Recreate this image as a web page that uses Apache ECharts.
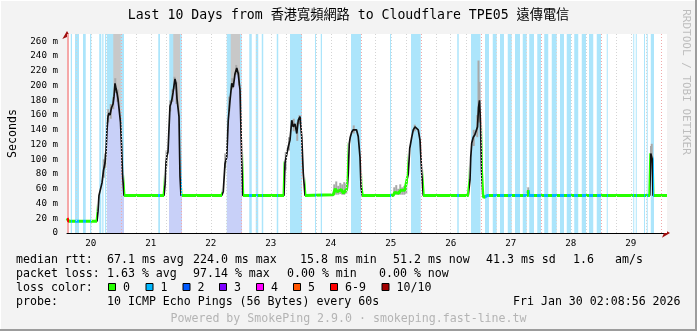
<!DOCTYPE html>
<html><head><meta charset="utf-8">
<script src="https://cdn.jsdelivr.net/npm/echarts@6/dist/echarts.min.js"></script>
<style>html,body{margin:0;padding:0;background:#f3f3f3}#c{width:697px;height:331px}</style>
</head><body><div id="c"></div>
<script>
// ---------------- data ----------------
const chartTitle = 'Last 10 Days from 香港寬頻網路 to Cloudflare TPE05 遠傳電信';
const sideText = 'RRDTOOL / TOBI OETIKER';
const yAxisName = 'Seconds';
const dayLabels = ['20','21','22','23','24','25','26','27','28','29'];
// time unit: hours after Jan 20 00:00
const xMinHour = 2.5, xMaxHour = 242.5;
const yMaxMs = 270;
// median rtt [hour, ms]
const medianRtt = [
 [2.5,20],[3.2,16],[14.5,16],[14.9,29],[15.3,51],[16.1,52],[16.5,68],[17.1,85],[17.7,95],[18.1,110],[18.5,140],[18.9,158],[19.3,163],[19.7,160],[20.3,170],[20.9,175],[21.3,185],[21.7,203],[22.1,196],[22.5,190],[22.9,182],[23.5,180],[23.9,150],[24.3,120],[24.7,80],[25.3,51],
 [41.3,51],[41.7,65],[42.1,95],[42.5,105],[42.9,110],[43.3,142],[43.7,172],[44.1,176],[44.5,182],[44.9,190],[45.3,200],[45.7,209],[46.1,203],[46.5,182],[46.9,170],[47.3,158],[47.7,77],[48.1,51],
 [64.4,51],[65.0,56],[65.7,94],[66.4,103],[67.0,153],[67.7,180],[68.4,203],[69.0,198],[69.7,216],[70.4,224],[71.0,216],[71.7,194],[72.4,99],[72.8,51],
 [89.3,51],[89.7,95],[90.3,95],[91.0,117],[91.7,126],[92.4,153],[93.0,144],[93.7,148],[94.4,135],[95.0,153],[95.7,158],[96.4,130],[97.0,81],[97.7,51],
 [109.0,52],[109.8,60],[110.6,56],[111.4,55],[112.2,59],[113.0,54],[113.8,57],[114.6,60],[115.0,80],[115.4,121],[115.8,130],[116.4,137],[117.0,140],[117.6,142],[118.3,140],[119.0,131],[119.7,103],[120.1,63],[120.6,51],
 [133.0,51],[133.6,55],[134.4,57],[135.2,54],[136.0,58],[136.8,56],[137.6,58],[138.4,60],[139.0,80],[139.6,115],[140.4,130],[141.0,140],[141.7,144],[142.4,142],[143.0,140],[143.7,126],[144.4,81],[145.0,51],
 [163.0,51],[163.7,72],[164.0,103],[164.4,122],[165.0,130],[165.6,133],[166.4,135],[166.7,144],[167.1,170],[167.5,180],[167.9,150],[168.3,85],[168.8,52],[169.3,48],[170.0,50],[170.6,51],
 [186.8,51],[187.0,58],[187.2,51],
 [235.6,51],[236.0,108],[236.3,110],[236.6,100],[236.9,51],
 [242.5,51]
];
// spans where the median sits inside dense dark smoke
const peakSpans = [[14.7,25.3],[41.4,48.1],[64.6,72.8],[89.4,97.7],[114.8,120.5],[138.8,144.9],[163.2,168.6],[186.9,187.1],[235.7,236.9]];
// smoke [hour, low ms, high ms]
const smokeRanges = [
 [17.2,75,100],[17.8,88,108],[19.0,150,168],[20.0,155,175],[21.0,168,185],[21.8,190,210],[22.7,178,195],
 [42.3,90,112],[43.8,165,180],[44.7,178,195],[45.5,195,212],[46.3,175,205],
 [65.8,88,108],[67.4,165,185],[68.6,195,210],[70.2,215,228],[71.3,200,218],
 [90.0,85,110],[91.3,112,130],[93.2,138,155],[94.6,125,150],[95.5,148,160],
 [109.4,52,66],[110.2,52,70],[111.0,52,64],[111.8,53,68],[112.6,52,66],[113.4,52,69],[114.2,53,67],[117.2,135,146],
 [133.4,52,62],[134.2,52,65],[135.0,52,60],[135.8,52,66],[136.6,52,62],[137.4,52,64],[138.2,53,63],[141.6,138,147],
 [165.2,118,140],[166.6,130,160],[167.1,150,234],[167.5,150,205],
 [187.0,51,62],
 [236.1,95,118],[236.4,100,121]
];
// smoke beyond the top of the graph [start hour, end hour]
const overTopSpans = [[21.0,24.0],[45.0,47.7],[68.0,71.7]];
const underCurveSpans = [[18.4,25.3],[43.4,48.4],[66.4,72.4]];
// loss bands [start hour, end hour, loss class index]
const lossBands = [
 [2.5,3.3,6],[4.0,4.5,1],[5.7,7.3,1],[8.9,10.0,1],[11.7,12.2,1],[15.4,16.2,1],[16.6,17.1,1],[17.7,18.1,1],[18.4,25.3,1],
 [39.0,39.7,1],[43.4,48.4,1],[66.4,72.4,1],[75.4,76.4,1],[78.0,79.0,1],[80.4,81.0,1],[86.4,87.0,1],[91.7,96.5,1],
 [101.7,102.1,1],[104.0,104.5,1],[116.1,120.1,1],[131.7,132.1,1],[140.1,144.0,1],[158.6,159.2,1],[164.1,167.9,1],
 [169.7,171.3,1],[172.8,174.4,1],[175.7,177.3,1],[178.8,180.4,1],[181.7,183.7,1],[184.8,186.4,1],[187.4,189.3,1],
 [190.6,192.1,1],[193.4,195.0,1],[196.4,198.4,1],[199.7,201.3,1],[202.4,204.1,1],[205.4,207.0,1],[208.4,210.1,1],
 [211.3,213.0,1],[214.4,216.1,1],[218.4,218.8,1],[229.0,229.4,1],[230.0,230.4,1],[233.3,233.7,1],[234.4,234.8,1],[236.0,237.3,1]
];
const lossClasses = ['0','1','2','3','4','5','6-9','10/10'];
const lossColors = ['#26ff00','#00b8ff','#0059ff','#7e00ff','#ff00ff','#ff5500','#ff0000','#a10000'];
const lossBandColors = ['#c8ffc0','#ace5fb','#b0c8ff','#d4b0ff','#ffb0ff','#ffc8a8','#f5a8a8','#e0a0a0'];
const rttStats = ['median rtt:','67.1 ms avg','224.0 ms max','15.8 ms min','51.2 ms now','41.3 ms sd','1.6','am/s'];
const lossStats = ['packet loss:','1.63 % avg','97.14 % max','0.00 % min','0.00 % now'];
const probeText = ['probe:','10 ICMP Echo Pings (56 Bytes) every 60s','Fri Jan 30 02:08:56 2026'];
const poweredBy = 'Powered by SmokePing 2.9.0 · smokeping.fast-line.tw';

// ---------------- helpers ----------------
const MONO = '"DejaVu Sans Mono", "Noto Sans CJK TC", monospace';
function buildPieces(layers){
  const pts = new Set();
  layers.forEach(l => l.spans.forEach(s => {pts.add(s[0]); pts.add(s[1]);}));
  const b = Array.from(pts).sort((a,c)=>a-c);
  const out = [];
  for (let i=0;i<b.length-1;i++){
    const m=(b[i]+b[i+1])/2; let col=null;
    for (const l of layers){ const s=l.spans.find(s=>m>=s[0]&&m<s[1]); if(s){col=l.color(s);break;} }
    if(col===null) continue;
    const last=out[out.length-1];
    if(last && last.lt===b[i] && last.color===col) last.lt=b[i+1];
    else out.push({gte:b[i], lt:b[i+1], color:col});
  }
  return out;
}
const transparent = 'rgba(0,0,0,0)';

const chart = echarts.init(document.getElementById('c'), null, {renderer:'canvas'});

// vertical grid every 6 hours
const vGrid = [];
for (let h = Math.ceil(xMinHour/6)*6; h <= xMaxHour; h += 6) {
  vGrid.push({xAxis:h, lineStyle:{color: h%24===0 ? '#f0aaaa' : '#d4d4d4', type:[1,2], width:1}});
}

const bandAreas = lossBands.map(b => [{xAxis:b[0], itemStyle:{color:lossBandColors[b[2]]}}, {xAxis:b[1]}]);
overTopSpans.forEach(s => bandAreas.push([{xAxis:s[0], itemStyle:{color:'#c8c8c8'}}, {xAxis:s[1]}]));

const thickPieces = buildPieces([
  {spans: peakSpans, color: () => transparent},
  {spans: lossBands, color: s => lossColors[s[2]]}
]);
const darkPieces = buildPieces([{spans: peakSpans, color: () => '#111111'}]);
const lavPieces = buildPieces([{spans: underCurveSpans, color: () => '#c8d0f8'}]);

// legend graphics
const g = [];
function txt(x, y, t, size, color, align){
  g.push({type:'text', x:x, y:y, silent:true, style:{text:t, font: size+'px '+MONO, fill:color||'#000', align:align||'left', verticalAlign:'middle'}});
}
txt(348.5, 16, chartTitle, 13.2, '#000', 'center');
g.push({type:'text', x:686, y:82, rotation:-Math.PI/2, silent:true, style:{text:sideText, font:'11px '+MONO, fill:'#bdbdbd', align:'center', verticalAlign:'middle'}});
const r1x=[16,107,193,300,393,486,573,615];
rttStats.forEach((t,i)=>txt(r1x[i],259.5,t,11.6));
const r2x=[16,107,193,287,379];
lossStats.forEach((t,i)=>txt(r2x[i],273.5,t,11.6));
txt(16,287.5,'loss color:',11.6);
const boxX=[108,145.5,182.5,219,256,293,330,381.5];
lossClasses.forEach((c,i)=>{
  g.push({type:'rect', silent:true, shape:{x:boxX[i]+0.5, y:283.5, width:7, height:7}, style:{fill:lossColors[i], stroke:'#000', lineWidth:1}});
  txt(boxX[i]+15,287.5,c,11.6);
});
const r4x=[16,107,513];
probeText.forEach((t,i)=>txt(r4x[i],301.5,t,11.6));
txt(348.5,318.5,poweredBy,11.6,'#b4b4b4','center');
// frame
g.push({type:'line', silent:true, shape:{x1:0,y1:0.5,x2:697,y2:0.5}, style:{stroke:'#ffffff',lineWidth:1}});
g.push({type:'line', silent:true, shape:{x1:0.5,y1:0,x2:0.5,y2:331}, style:{stroke:'#ffffff',lineWidth:1}});
g.push({type:'line', silent:true, shape:{x1:0,y1:330,x2:697,y2:330}, style:{stroke:'#9c9c9c',lineWidth:2}});
g.push({type:'line', silent:true, shape:{x1:696,y1:0,x2:696,y2:331}, style:{stroke:'#9c9c9c',lineWidth:2}});

const option = {
  animation:false,
  backgroundColor:'#f3f3f3',
  grid:{left:67, right:30, top:34, bottom:98, containLabel:false, outerBoundsMode:'none'},
  xAxis:[
    {type:'value', min:xMinHour, max:xMaxHour, splitLine:{show:false}, axisTick:{show:false},
     axisLine:{onZero:false, lineStyle:{color:'#000', width:1}},
     axisLabel:{customValues: dayLabels.map((d,i)=>i*24+12), formatter: v => dayLabels[Math.round((v-12)/24)],
       fontFamily:MONO, fontSize:9.2, color:'#000', margin:6}},
    {type:'value', min:xMinHour, max:xMaxHour, position:'bottom', splitLine:{show:false}, axisTick:{show:false}, axisLabel:{show:false},
     axisLine:{show:true, onZero:false, symbol:['none','arrow'], symbolSize:[7,8], symbolOffset:[0,3], lineStyle:{color:'#a01010', width:0}}}
  ],
  yAxis:[
    {type:'value', min:0, max:yMaxMs, interval:10,
     axisLine:{show:true, onZero:false, lineStyle:{color:'#000', width:1}}, axisTick:{show:false},
     axisLabel:{formatter: v => (v%20 ? '' : (v===0 ? '0' : v+' m')), fontFamily:MONO, fontSize:9.2, color:'#000', margin:9},
     splitLine:{show:true, lineStyle:{color:['#f0aaaa','#d4d4d4'], type:[1,2], width:1}},
     name:yAxisName, nameLocation:'middle', nameGap:48, nameTextStyle:{fontFamily:MONO, fontSize:11.6, color:'#000'}},
    {type:'value', min:0, max:yMaxMs, position:'left', splitLine:{show:false}, axisTick:{show:false}, axisLabel:{show:false},
     axisLine:{show:true, onZero:false, symbol:['none','arrow'], symbolSize:[7,8], symbolOffset:[0,3], lineStyle:{color:'#a01010', width:0}}}
  ],
  visualMap:[
    {type:'piecewise', show:false, dimension:0, seriesIndex:3, pieces:lavPieces, outOfRange:{color:transparent}},
    {type:'piecewise', show:false, dimension:0, seriesIndex:5, pieces:thickPieces, outOfRange:{color:lossColors[0]}},
    {type:'piecewise', show:false, dimension:0, seriesIndex:6, pieces:darkPieces, outOfRange:{color:transparent}}
  ],
  series:[
    {type:'scatter', data:[], z:-3, silent:true,
     markArea:{silent:true, itemStyle:{color:'#ffffff'}, label:{show:false}, data:[[{coord:[xMinHour,0]},{coord:[xMaxHour,yMaxMs]}]]}},
    {type:'scatter', data:[], z:-2, silent:true,
     markArea:{silent:true, label:{show:false}, emphasis:{disabled:true}, data:bandAreas}},
    {type:'scatter', data:[], z:-1, silent:true,
     markLine:{silent:true, symbol:['none','none'], label:{show:false}, emphasis:{disabled:true}, data:vGrid}},
    {type:'line', data:medianRtt, z:1, silent:true, showSymbol:false, lineStyle:{width:0}, areaStyle:{opacity:1}},
    {type:'custom', data:smokeRanges, z:2, silent:true, encode:{x:0, y:[1,2]},
     renderItem:(params, api) => {
       const p1 = api.coord([api.value(0), api.value(1)]);
       const p2 = api.coord([api.value(0), api.value(2)]);
       return {type:'rect', shape:{x:p1[0]-1, y:p2[1], width:2, height:p1[1]-p2[1]}, style:{fill:'#a8a8a8'}};
     }},
    {type:'line', data:medianRtt, z:3, silent:true, showSymbol:false, lineStyle:{width:3}},
    {type:'line', data:medianRtt, z:4, silent:true, showSymbol:false, lineStyle:{width:1.7}}
  ],
  graphic:{elements:g}
};
chart.setOption(option);
</script></body></html>
